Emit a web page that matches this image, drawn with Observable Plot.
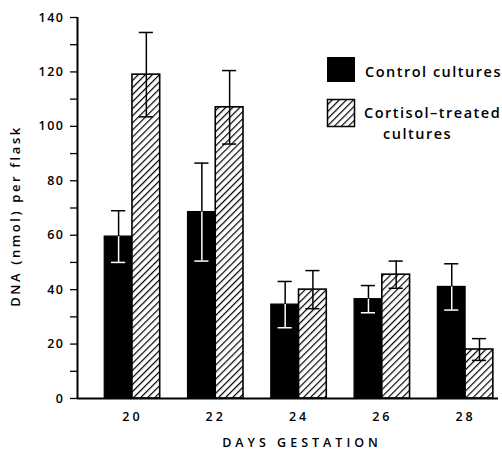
<!DOCTYPE html>
<html>
<head>
<meta charset="utf-8">
<script src="https://cdn.jsdelivr.net/npm/d3@7"></script>
<script src="https://cdn.jsdelivr.net/npm/@observablehq/plot@0.6"></script>
<style>
  html, body { margin: 0; padding: 0; background: #fff; }
  #chart svg { display: block; }
  #chart text { letter-spacing: 1.5px; }
  #chart g[aria-label="x-axis tick label"] text { letter-spacing: 3px; }
  #chart text.xtitle { letter-spacing: 4px; }
  #chart text.ytitle { letter-spacing: 2.6px; }
</style>
</head>
<body>
<div id="chart"></div>
<script>
// ---- data ----
const days = [20, 22, 24, 26, 28];
const controlMean = [59.5, 68.5, 34.5, 36.5, 41];
const controlErr = [9.5, 18, 8.5, 5, 8.5];
const cortisolMean = [119, 107, 40, 45.5, 18];
const cortisolErr = [15.5, 13.5, 7, 5, 4];
const yMajorTicks = [0, 20, 40, 60, 80, 100, 120, 140];
const yMinorTicks = [10, 30, 50, 70, 90, 110, 130];
const seriesNames = ["Control cultures", "Cortisol\u2013treated", "cultures"];
const xLabel = "DAYS GESTATION";
const yLabel = "DNA (nmol) per flask";

// ---- layout parameters ----
const barW = 0.666;      // bar width in day units
const capHalf = 0.17;    // error bar cap half width in day units
const xDomain = [18.68, 28.79];
const yDomain = [0, 140];
const FONT = "'Open Sans', sans-serif";

const rows = [];
days.forEach((day, i) => {
  rows.push({day, series: "control", mean: controlMean[i], err: controlErr[i], x1: day - barW, x2: day, c: day - barW / 2});
  rows.push({day, series: "cortisol", mean: cortisolMean[i], err: cortisolErr[i], x1: day, x2: day + barW, c: day + barW / 2});
});
const control = rows.filter(d => d.series === "control");
const cortisol = rows.filter(d => d.series === "cortisol");

const svg = Plot.plot({
  width: 502,
  height: 450,
  marginLeft: 77,
  marginRight: 4,
  marginTop: 17,
  marginBottom: 52,
  style: {fontFamily: FONT, fontSize: "12px", fontWeight: 600, color: "black", background: "white"},
  x: {domain: xDomain, axis: null},
  y: {domain: yDomain, axis: null},
  marks: [
    // left axis line
    Plot.ruleX([xDomain[0]], {y1: yDomain[0], y2: yDomain[1], stroke: "black", strokeWidth: 2}),
    // bars
    Plot.rectY(control, {x1: "x1", x2: "x2", y1: 0, y2: "mean", fill: "black", stroke: "black", strokeWidth: 1.2}),
    Plot.rectY(cortisol, {x1: "x1", x2: "x2", y1: 0, y2: "mean", fill: "url(#hatch)", stroke: "black", strokeWidth: 1.6}),
    // error bars: upper part (black)
    Plot.ruleX(rows, {x: "c", y1: "mean", y2: d => d.mean + d.err, stroke: "black", strokeWidth: 1.5}),
    Plot.ruleY(rows, {y: d => d.mean + d.err, x1: d => d.c - capHalf, x2: d => d.c + capHalf, stroke: "black", strokeWidth: 1.5}),
    // lower part: white inside black bars, black inside hatched bars
    Plot.ruleX(control, {x: "c", y1: d => d.mean - d.err, y2: "mean", stroke: "white", strokeWidth: 1.5}),
    Plot.ruleY(control, {y: d => d.mean - d.err, x1: d => d.c - capHalf, x2: d => d.c + capHalf, stroke: "white", strokeWidth: 1.5}),
    Plot.ruleX(cortisol, {x: "c", y1: d => d.mean - d.err, y2: "mean", stroke: "black", strokeWidth: 1.5}),
    Plot.ruleY(cortisol, {y: d => d.mean - d.err, x1: d => d.c - capHalf, x2: d => d.c + capHalf, stroke: "black", strokeWidth: 1.5}),
    // axes
    Plot.ruleY([0], {stroke: "black", strokeWidth: 1.8}),
    Plot.axisY(yMajorTicks, {label: null, tickSize: 7, tickPadding: 6, strokeWidth: 1.3, fontSize: 12.5, fontWeight: 600}),
    Plot.axisY(yMinorTicks, {label: null, tickSize: 7, tickFormat: () => "", strokeWidth: 1.3}),
    Plot.axisX(days, {label: null, tickSize: 0, tickPadding: 14, fontSize: 12.5, fontWeight: 600}),
    // axis labels
    Plot.text([xLabel], {frameAnchor: "bottom", textAnchor: "middle", lineAnchor: "middle", dx: 14, dy: 44, fontSize: 12.5, fontWeight: 600, fill: "black"}),
    Plot.text([yLabel], {frameAnchor: "left", textAnchor: "middle", lineAnchor: "middle", rotate: -90, dx: -62, dy: 8, fontSize: 13, fontWeight: 600, fill: "black"})
  ]
});

const s = d3.select(svg);
// tag the axis titles so CSS letter-spacing can reach them
s.selectAll("text").filter(function() { return this.textContent === xLabel; }).classed("xtitle", true);
s.selectAll("text").filter(function() { return this.textContent === yLabel; }).classed("ytitle", true);

// hatch pattern
const defs = s.append("defs");
const pat = defs.append("pattern")
  .attr("id", "hatch")
  .attr("patternUnits", "userSpaceOnUse")
  .attr("width", 5)
  .attr("height", 5)
  .attr("patternTransform", "rotate(45)");
pat.append("rect").attr("width", 5).attr("height", 5).attr("fill", "white");
pat.append("line").attr("x1", 0).attr("y1", -1).attr("x2", 0).attr("y2", 6)
  .attr("stroke", "black").attr("stroke-width", 2.4);

// legend
const lg = s.append("g").attr("font-family", FONT).attr("font-weight", 600).attr("font-size", 14.5).attr("text-anchor", "start");
lg.append("rect").attr("x", 327).attr("y", 57).attr("width", 28).attr("height", 25).attr("fill", "black");
lg.append("rect").attr("x", 327.5).attr("y", 99.5).attr("width", 27).attr("height", 27)
  .attr("fill", "url(#hatch)").attr("stroke", "black").attr("stroke-width", 1.5);
lg.append("text").attr("x", 365).attr("y", 77).text(seriesNames[0]);
lg.append("text").attr("x", 364).attr("y", 118).text(seriesNames[1]);
lg.append("text").attr("x", 383).attr("y", 139).text(seriesNames[2]);

document.getElementById("chart").appendChild(svg);
</script>
</body>
</html>
